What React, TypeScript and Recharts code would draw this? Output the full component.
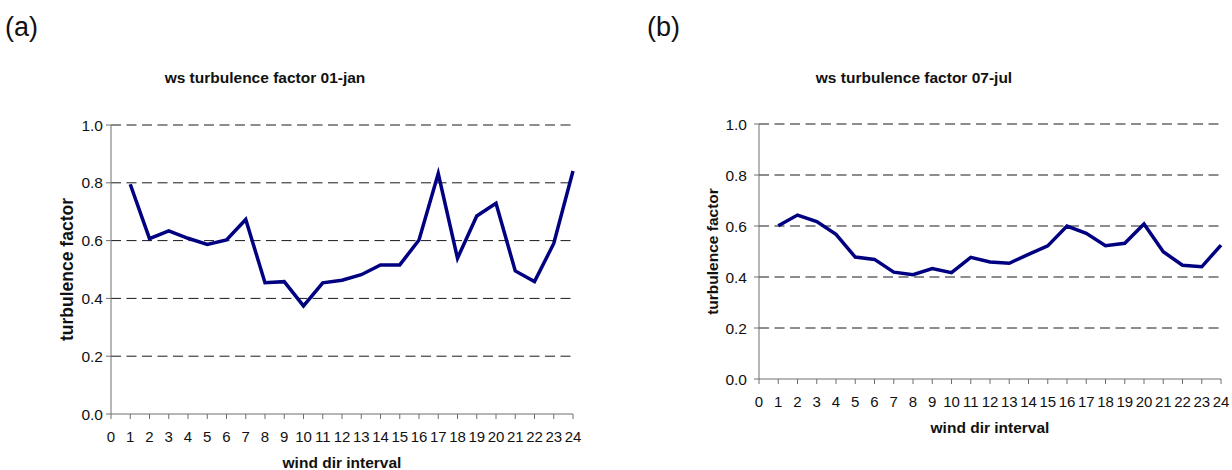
import { LineChart, Line, XAxis, YAxis, CartesianGrid } from "recharts";

// wind direction intervals 1..24 (axis starts at 0)
const INTERVALS = [1, 2, 3, 4, 5, 6, 7, 8, 9, 10, 11, 12, 13, 14, 15, 16, 17, 18, 19, 20, 21, 22, 23, 24];
const X_TICKS = [0, 1, 2, 3, 4, 5, 6, 7, 8, 9, 10, 11, 12, 13, 14, 15, 16, 17, 18, 19, 20, 21, 22, 23, 24];
const Y_TICKS = [0, 0.2, 0.4, 0.6, 0.8, 1.0];

const JAN = [0.795, 0.607, 0.634, 0.608, 0.587, 0.602, 0.673, 0.454, 0.458, 0.374, 0.454, 0.463, 0.482, 0.516, 0.516, 0.602, 0.832, 0.539, 0.685, 0.729, 0.495, 0.458, 0.59, 0.841];
const JUL = [0.601, 0.643, 0.617, 0.567, 0.478, 0.469, 0.419, 0.409, 0.433, 0.417, 0.477, 0.459, 0.454, 0.489, 0.522, 0.6, 0.571, 0.523, 0.532, 0.608, 0.499, 0.446, 0.44, 0.525];

const FONT = '"Liberation Sans", Arial, sans-serif';
const X_TICK = { fontSize: 15, fill: "#111", fontFamily: FONT } as const;
const Y_TICK = { fontSize: 15.5, fill: "#111", fontFamily: FONT } as const;
const AXIS_LINE = { stroke: "#6e6e6e", strokeWidth: 1 };
const LABEL_STYLE = { fontSize: 15.5, fontWeight: 700, fill: "#111", fontFamily: FONT };

const toRows = (vals: number[]) => INTERVALS.map((x, i) => ({ x, v: vals[i] }));

function Panel({ data, width, margin, yTickMargin, yLabelOffset, yLabelSize }: {
  data: { x: number; v: number }[];
  width: number;
  margin: { top: number; right: number; bottom: number; left: number };
  yTickMargin: number;
  yLabelOffset: number;
  yLabelSize: number;
}) {
  return (
    <LineChart width={width} height={470} data={data} margin={margin}>
      <CartesianGrid vertical={false} stroke="#1a1a1a" strokeDasharray="10 5.5" horizontalValues={[0.2, 0.4, 0.6, 0.8, 1.0]} />
      <XAxis
        dataKey="x" type="number" domain={[0, 24]} ticks={X_TICKS} interval={0}
        tick={X_TICK} tickSize={5} tickMargin={12} height={55}
        axisLine={AXIS_LINE} tickLine={AXIS_LINE}
        label={{ value: "wind dir interval", position: "insideBottom", offset: 1, style: LABEL_STYLE }}
      />
      <YAxis
        type="number" domain={[0, 1]} ticks={Y_TICKS} interval={0} width={50}
        tickFormatter={(v: number) => v.toFixed(1)}
        tick={Y_TICK} tickSize={5} tickMargin={yTickMargin}
        axisLine={AXIS_LINE} tickLine={AXIS_LINE}
        label={{ value: "turbulence factor", angle: -90, position: "insideLeft", offset: yLabelOffset, style: { ...LABEL_STYLE, fontSize: yLabelSize, textAnchor: "middle" } }}
      />
      <Line dataKey="v" type="linear" stroke="#000080" strokeWidth={3.5} dot={false} isAnimationActive={false} />
    </LineChart>
  );
}

function Txt({ text, left, top, size, bold, center }: { text: string; left: number; top: number; size: number; bold?: boolean; center?: boolean }) {
  return (
    <div style={{
      position: "absolute", left: center ? left - 250 : left, top, width: center ? 500 : undefined,
      textAlign: center ? "center" : "left", fontFamily: FONT, fontSize: size, lineHeight: 1,
      fontWeight: bold ? 700 : 400, color: "#111", whiteSpace: "nowrap",
    }}>{text}</div>
  );
}

export default function App() {
  return (
    <div style={{ position: "fixed", left: 0, top: 0, width: 1232, height: 470, background: "#fff", overflow: "hidden" }}>
      <div style={{ position: "absolute", left: 0, top: 0 }}>
        <Panel data={toRows(JAN)} width={620} margin={{ top: 125, right: 47, bottom: 1, left: 61 }} yTickMargin={3} yLabelOffset={6} yLabelSize={17.5} />
      </div>
      <div style={{ position: "absolute", left: 620, top: 0 }}>
        <Panel data={toRows(JUL)} width={612} margin={{ top: 124, right: 11, bottom: 36, left: 89 }} yTickMargin={7} yLabelOffset={3} yLabelSize={15.5} />
      </div>
      <Txt text="(a)" left={5} top={14} size={27} />
      <Txt text="(b)" left={647} top={14} size={27} />
      <Txt text="ws turbulence factor 01-jan" left={265} top={70} size={15.5} bold center />
      <Txt text="ws turbulence factor 07-jul" left={914} top={70} size={15.5} bold center />
    </div>
  );
}
